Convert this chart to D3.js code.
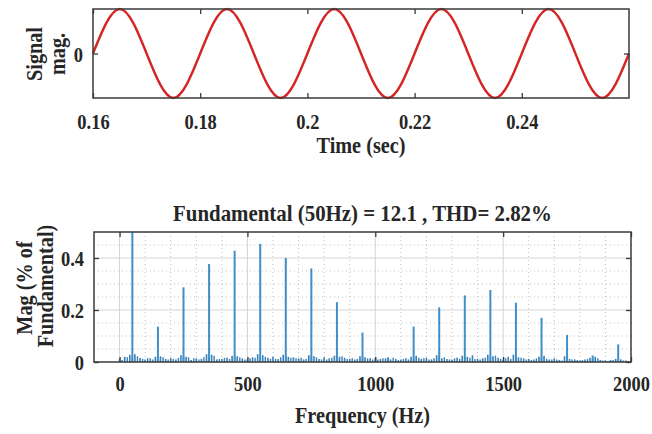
<!DOCTYPE html>
<html>
<head>
<meta charset="utf-8">
<script src="https://cdn.jsdelivr.net/npm/d3@7"></script>
<style>
body { margin: 0; background: #fff; }
text { font-family: "Liberation Serif", "Times New Roman", serif; font-weight: bold; fill: #262626; }
.tick text { font-size: 22px; }
.lbl { font-size: 23px; }
.ttl { font-size: 24px; }
</style>
</head>
<body>
<svg id="chart"></svg>
<script>
// top plot: zero crossings and peaks of the signal
let sigTime = [0.16, 0.165, 0.17, 0.175, 0.18, 0.185, 0.19, 0.195, 0.2, 0.205, 0.21,
               0.215, 0.22, 0.225, 0.23, 0.235, 0.24, 0.245, 0.25, 0.255, 0.26];
let sigMag = [0, 12.1, 0, -12.1, 0, 12.1, 0, -12.1, 0, 12.1, 0,
              -12.1, 0, 12.1, 0, -12.1, 0, 12.1, 0, -12.1, 0];
let timeTicks = [0.16, 0.18, 0.2, 0.22, 0.24];
let sigTicks = [0];

// bottom plot: harmonic spectrum (% of fundamental)
let harmFreq = [50, 150, 250, 350, 450, 550, 650, 750, 850, 950,
                1050, 1150, 1250, 1350, 1450, 1550, 1650, 1750, 1850, 1950];
let harmMag = [100, 0.136, 0.287, 0.377, 0.428, 0.454, 0.400, 0.360, 0.230, 0.113,
               0.018, 0.136, 0.210, 0.256, 0.277, 0.228, 0.170, 0.104, 0.025, 0.068];
// small components every 20 Hz, from 0 Hz (noiseMag) and from 10 Hz (noiseMag2)
let noiseMag = [0.012, 0.020, 0.028, 0.030, 0.015, 0.010, 0.014, 0.020, 0.022, 0.012,
                0.016, 0.010, 0.026, 0.020, 0.008, 0.014, 0.012, 0.030, 0.028, 0.010,
                0.012, 0.016, 0.024, 0.022, 0.014, 0.010, 0.018, 0.030, 0.026, 0.016,
                0.020, 0.012, 0.028, 0.020, 0.018, 0.014, 0.010, 0.026, 0.022, 0.012,
                0.018, 0.014, 0.024, 0.020, 0.016, 0.012, 0.010, 0.022, 0.018, 0.014,
                0.016, 0.012, 0.014, 0.010, 0.012, 0.010, 0.014, 0.020, 0.024, 0.012,
                0.016, 0.010, 0.026, 0.014, 0.012, 0.010, 0.016, 0.024, 0.020, 0.026,
                0.012, 0.014, 0.028, 0.022, 0.016, 0.010, 0.020, 0.028, 0.018, 0.014,
                0.012, 0.010, 0.020, 0.024, 0.010, 0.014, 0.008, 0.022, 0.012, 0.010,
                0.006, 0.010, 0.016, 0.020, 0.008, 0.006, 0.008, 0.012, 0.010, 0.006];
let noiseMag2 = [0.008, 0.018, 0.020, 0.022, 0.012, 0.014, 0.010, 0.016, 0.018, 0.010,
                 0.012, 0.016, 0.020, 0.018, 0.014, 0.010, 0.018, 0.022, 0.024, 0.012,
                 0.016, 0.012, 0.020, 0.018, 0.010, 0.014, 0.016, 0.022, 0.020, 0.012,
                 0.012, 0.018, 0.024, 0.016, 0.014, 0.016, 0.012, 0.022, 0.018, 0.010,
                 0.010, 0.016, 0.020, 0.022, 0.012, 0.014, 0.012, 0.018, 0.014, 0.010,
                 0.010, 0.014, 0.012, 0.016, 0.008, 0.012, 0.010, 0.018, 0.016, 0.014,
                 0.010, 0.014, 0.020, 0.018, 0.010, 0.014, 0.012, 0.022, 0.016, 0.012,
                 0.010, 0.016, 0.020, 0.024, 0.012, 0.014, 0.012, 0.022, 0.016, 0.010,
                 0.008, 0.014, 0.018, 0.012, 0.010, 0.010, 0.006, 0.016, 0.010, 0.008,
                 0.008, 0.012, 0.010, 0.014, 0.006, 0.004, 0.008, 0.010, 0.006, 0.004];
let noiseStep = 20;
let freqTicks = [0, 500, 1000, 1500, 2000];
let magTicks = [0, 0.2, 0.4];
let title = "Fundamental (50Hz) = 12.1 , THD= 2.82%";

let width = 652, height = 434;
let svg = d3.select("#chart").attr("width", width).attr("height", height);
svg.append("rect").attr("width", width).attr("height", height).attr("fill", "#fff");

let tBox = {left: 93, right: 629, top: 9, bottom: 98};
let bBox = {left: 94, right: 631, top: 232, bottom: 362};
let sxTick = 0.84;

// box + inward ticks on all four sides (matlab style)
function drawFrame(x, y, box, xTicks, yTicks, xFmt, yFmt, labelGap) {
  let g = svg.append("g").attr("color", "#3a3a3a");
  g.append("g").attr("transform", `translate(0,${box.top})`)
   .call(d3.axisTop(x).tickValues(xTicks).tickSize(-5).tickFormat(""));
  g.append("g").attr("transform", `translate(${box.right},0)`)
   .call(d3.axisRight(y).tickValues(yTicks).tickSize(-5).tickFormat(""));
  let ax = g.append("g").attr("transform", `translate(0,${box.bottom})`)
   .call(d3.axisBottom(x).tickValues(xTicks).tickSize(-5).tickFormat(xFmt));
  ax.selectAll("text").attr("y", labelGap).attr("dy", 0)
   .attr("transform", `scale(${sxTick},1)`);
  let ay = g.append("g").attr("transform", `translate(${box.left},0)`)
   .call(d3.axisLeft(y).tickValues(yTicks).tickSize(-5).tickFormat(yFmt));
  ay.selectAll("text").attr("x", -10 / sxTick).attr("dy", "0.35em")
   .attr("transform", `scale(${sxTick},1)`);
  g.selectAll("g").attr("font-family", null).attr("font-size", null);
  g.selectAll(".domain").remove();
  g.selectAll(".tick line").attr("stroke-width", 1.3);
  g.append("rect")
   .attr("x", box.left).attr("y", box.top)
   .attr("width", box.right - box.left).attr("height", box.bottom - box.top)
   .attr("fill", "none").attr("stroke", "#3a3a3a").attr("stroke-width", 1.5);
}

// narrow bold serif label, like the squeezed original
function addLabel(cls, x, y, rot, sx, txt) {
  svg.append("text").attr("class", cls)
    .attr("text-anchor", "middle")
    .attr("transform", `translate(${x},${y}) rotate(${rot}) scale(${sx},1)`)
    .text(txt);
}

// ---------- top plot
let xT = d3.scaleLinear().domain([0.16, 0.26]).range([tBox.left, tBox.right]);
let yT = d3.scaleLinear().domain([-12.1, 12.1]).range([tBox.bottom, tBox.top]);

let sigData = sigTime.map((t, i) => ({t: t, v: sigMag[i]}));
let lineF = d3.line()
  .x(d => xT(d.t))
  .y(d => yT(d.v))
  .curve(d3.curveNatural);
svg.append("path")
  .datum(sigData)
  .attr("d", lineF)
  .attr("fill", "none")
  .attr("stroke", "#d42424")
  .attr("stroke-width", 2.4);

drawFrame(xT, yT, tBox, timeTicks, sigTicks, d => String(+d.toFixed(2)), d => d, 31);

addLabel("lbl", (tBox.left + tBox.right) / 2, 153, 0, 0.88, "Time (sec)");
addLabel("lbl", 42, 54, -90, 0.88, "Signal");
addLabel("lbl", 65, 54, -90, 0.88, "mag.");

// ---------- bottom plot
let xB = d3.scaleLinear().domain([-100, 2000]).range([bBox.left, bBox.right]);
let yB = d3.scaleLinear().domain([0, 0.5]).range([bBox.bottom, bBox.top]);

let grid = svg.append("g");
let minorX = xB.ticks(21).filter(d => freqTicks.indexOf(d) < 0 && d > -100 && d < 2000);
let minorY = yB.ticks(10).filter(d => magTicks.indexOf(Math.round(d * 100) / 100) < 0 && d < 0.5);
grid.selectAll(".mx").data(minorX).enter().append("line")
  .attr("x1", d => xB(d)).attr("x2", d => xB(d))
  .attr("y1", bBox.top).attr("y2", bBox.bottom)
  .attr("stroke", "#bdbdbd").attr("stroke-dasharray", "1,3");
grid.selectAll(".my").data(minorY).enter().append("line")
  .attr("x1", bBox.left).attr("x2", bBox.right)
  .attr("y1", d => yB(d)).attr("y2", d => yB(d))
  .attr("stroke", "#bdbdbd").attr("stroke-dasharray", "1,3");
grid.selectAll(".Mx").data(freqTicks.filter(d => d < 2000)).enter().append("line")
  .attr("x1", d => xB(d)).attr("x2", d => xB(d))
  .attr("y1", bBox.top).attr("y2", bBox.bottom)
  .attr("stroke", "#d4d4d8");
grid.selectAll(".My").data(magTicks.filter(d => d > 0)).enter().append("line")
  .attr("x1", bBox.left).attr("x2", bBox.right)
  .attr("y1", d => yB(d)).attr("y2", d => yB(d))
  .attr("stroke", "#d4d4d8");

svg.append("clipPath").attr("id", "clipB")
  .append("rect")
  .attr("x", bBox.left).attr("y", bBox.top)
  .attr("width", bBox.right - bBox.left).attr("height", bBox.bottom - bBox.top);

let stems = svg.append("g").attr("clip-path", "url(#clipB)");
stems.selectAll(".n").data(noiseMag).enter().append("line")
  .attr("x1", (d, i) => xB(i * noiseStep)).attr("x2", (d, i) => xB(i * noiseStep))
  .attr("y1", yB(0)).attr("y2", d => yB(d))
  .attr("stroke", "#3a7fb5").attr("stroke-width", 1.6);
stems.selectAll(".n2").data(noiseMag2).enter().append("line")
  .attr("x1", (d, i) => xB(i * noiseStep + 10)).attr("x2", (d, i) => xB(i * noiseStep + 10))
  .attr("y1", yB(0)).attr("y2", d => yB(d))
  .attr("stroke", "#3a7fb5").attr("stroke-width", 1.4);
stems.selectAll(".h").data(harmFreq).enter().append("line")
  .attr("x1", d => xB(d)).attr("x2", d => xB(d))
  .attr("y1", yB(0)).attr("y2", (d, i) => yB(harmMag[i]))
  .attr("stroke", "#3d8fca").attr("stroke-width", 2);

drawFrame(xB, yB, bBox, freqTicks, magTicks, d => d, d => d, 29);

addLabel("ttl", (bBox.left + bBox.right) / 2, 221, 0, 0.87, title);
addLabel("lbl", (bBox.left + bBox.right) / 2, 423, 0, 0.88, "Frequency (Hz)");
addLabel("lbl", 32, 288, -90, 0.88, "Mag (% of");
addLabel("lbl", 53, 286, -90, 0.88, "Fundamental)");
</script>
</body>
</html>
